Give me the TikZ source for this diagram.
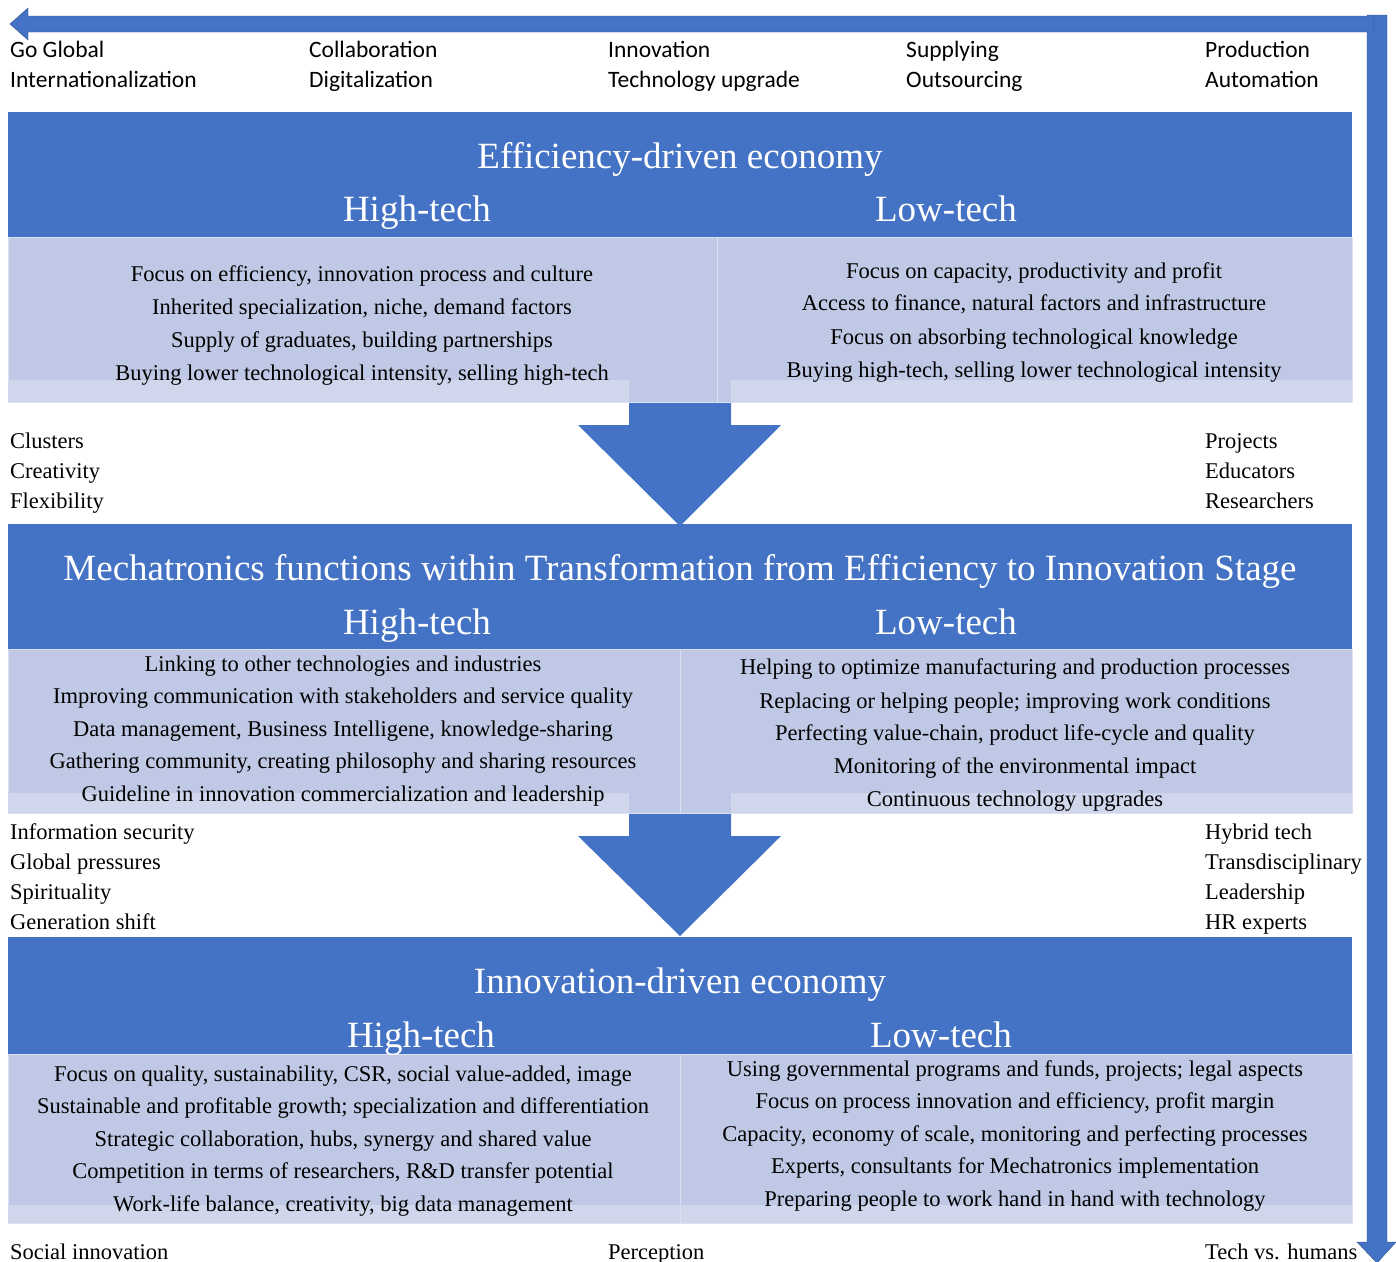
\documentclass[tikz,border=0pt]{standalone}
\usepackage{fontspec}
\setmainfont{Liberation Serif}
\newfontfamily\calfont{Carlito}
\usetikzlibrary{calc}
\definecolor{hdr}{HTML}{4472C4}
\definecolor{hdredge}{HTML}{2F528F}
\definecolor{cell}{HTML}{BFC9E5}
\definecolor{strip}{HTML}{D0D7EC}
\tikzset{
  txt/.style={font=\fontsize{22.5}{26}\selectfont,inner sep=0pt,text height=20pt,text depth=4pt},
  side/.style={txt,anchor=west},
  toplbl/.style={side,font=\calfont\fontsize{23.5}{27}\selectfont},
  ttl/.style={font=\fontsize{37}{42}\selectfont,text=white,inner sep=0pt,text height=31pt,text depth=8pt},
  cellbox/.style={fill=cell,draw=white!45!cell,line width=.8pt},
}

\begin{document}
\begin{tikzpicture}[x=1pt,y=-1pt]
\useasboundingbox (0,0) rectangle (1396,1261);
\fill[hdr,draw=hdredge] (1367,15) -- (1387,15) -- (1387,1242) -- (1396,1242) -- (1377,1263) -- (1357,1242) -- (1367,1242) -- cycle;
\fill[hdr,draw=hdredge] (10,24) -- (28,8) -- (28,16) -- (1374,16) -- (1374,32) -- (28,32) -- (28,40) -- cycle;
\foreach \d/\tip in {402/526, 813/936}
  \fill[hdr] (629,\d) -- (731,\d) -- (731,\d+23) -- (781,\d+23) -- (680,\tip) -- (578,\d+23) -- (629,\d+23) -- cycle;
\foreach \a/\b/\d/\m in {112/237/402/717, 524/649/813/680, 937/1054/1223/680}{
  \fill[hdr] (8,\a) rectangle (1352,\b);
  \draw[cellbox] (8,\b) rectangle (\m,\d);
  \draw[cellbox] (\m,\b) rectangle (1352,\d);
}
\foreach \c/\d in {380/402, 793/813}{
  \fill[strip] (8.4,\c) rectangle (629,\d-.4);
  \fill[strip] (731,\c) rectangle (1351.6,\d-.4);
}
\fill[strip] (8.4,1205) rectangle (1351.6,1222.6);
\draw[white!45!cell,line width=.8pt] (680,1205) -- (680,1223);
\foreach \x/\p/\q [count=\i] in {10/Go Global/Internationalization, 309/Collaboration/Digitalization, 608/Innovation/Technology upgrade, 906/Supplying/Outsourcing, 1205/Production/Automation}{
  \node[toplbl] (tp\i) at (\x,49) {\p};
  \node[toplbl] (tq\i) at (\x,79) {\q};
}
\node[ttl] (t1) at (680,157) {Efficiency-driven economy};
\node[ttl] (h1) at (417,210) {High-tech};
\node[ttl] (l1) at (946,210) {Low-tech};
\foreach \y/\t [count=\i] in {273/{Focus on efficiency, innovation process and culture}, 306/{Inherited specialization, niche, demand factors}, 339/{Supply of graduates, building partnerships}, 372/{Buying lower technological intensity, selling high-tech}}
  \node[txt] (a\i) at (362,\y) {\t};
\foreach \y/\t [count=\i] in {270/{Focus on capacity, productivity and profit}, 302/{Access to finance, natural factors and infrastructure}, 336/{Focus on absorbing technological knowledge}, 369/{Buying high-tech, selling lower technological intensity}}
  \node[txt] (b\i) at (1034,\y) {\t};
\foreach \t [count=\i] in {Clusters, Creativity, Flexibility}
  \node[side] (c\i) at (10,410+30*\i) {\t};
\foreach \t [count=\i] in {Projects, Educators, Researchers}
  \node[side] (d\i) at (1205,410+30*\i) {\t};
\node[ttl] (t2) at (680,569) {Mechatronics functions within Transformation from Efficiency to Innovation Stage};
\node[ttl] (h2) at (417,623) {High-tech};
\node[ttl] (l2) at (946,623) {Low-tech};
\foreach \y/\t [count=\i] in {663/{Linking to other technologies and industries}, 695/{Improving communication with stakeholders and service quality}, 728/{Data management, Business Intelligene, knowledge-sharing}, 760/{Gathering community, creating philosophy and sharing resources}, 793/{Guideline in innovation commercialization and leadership}}
  \node[txt] (e\i) at (343,\y) {\t};
\foreach \y/\t [count=\i] in {666/{Helping to optimize manufacturing and production processes}, 700/{Replacing or helping people; improving work conditions}, 732/{Perfecting value-chain, product life-cycle and quality}, 765/{Monitoring of the environmental impact}, 798/{Continuous technology upgrades}}
  \node[txt] (f\i) at (1015,\y) {\t};
\foreach \t [count=\i] in {Information security, Global pressures, Spirituality, Generation shift}
  \node[side] (g\i) at (10,801+30*\i) {\t};
\foreach \t [count=\i] in {Hybrid tech, Transdisciplinary, Leadership, HR experts}
  \node[side] (k\i) at (1205,801+30*\i) {\t};
\node[ttl] (t3) at (680,982) {Innovation-driven economy};
\node[ttl] (h3) at (421,1036) {High-tech};
\node[ttl] (l3) at (941,1036) {Low-tech};
\foreach \y/\t [count=\i] in {1073/{Focus on quality, sustainability, CSR, social value-added, image}, 1105/{Sustainable and profitable growth; specialization and differentiation}, 1138/{Strategic collaboration, hubs, synergy and shared value}, 1170/{Competition in terms of researchers, R\&D transfer potential}, 1203/{Work-life balance, creativity, big data management}}
  \node[txt] (m\i) at (343,\y) {\t};
\foreach \y/\t [count=\i] in {1068/{Using governmental programs and funds, projects; legal aspects}, 1100/{Focus on process innovation and efficiency, profit margin}, 1133/{Capacity, economy of scale, monitoring and perfecting processes}, 1165/{Experts, consultants for Mechatronics implementation}, 1198/{Preparing people to work hand in hand with technology}}
  \node[txt] (n\i) at (1015,\y) {\t};
\node[side] (s1) at (10,1251) {Social innovation};
\node[side] (s2) at (608,1251) {Perception};
\node[side] (s3) at (1205,1251) {Tech vs. humans};
\end{tikzpicture}
\end{document}
